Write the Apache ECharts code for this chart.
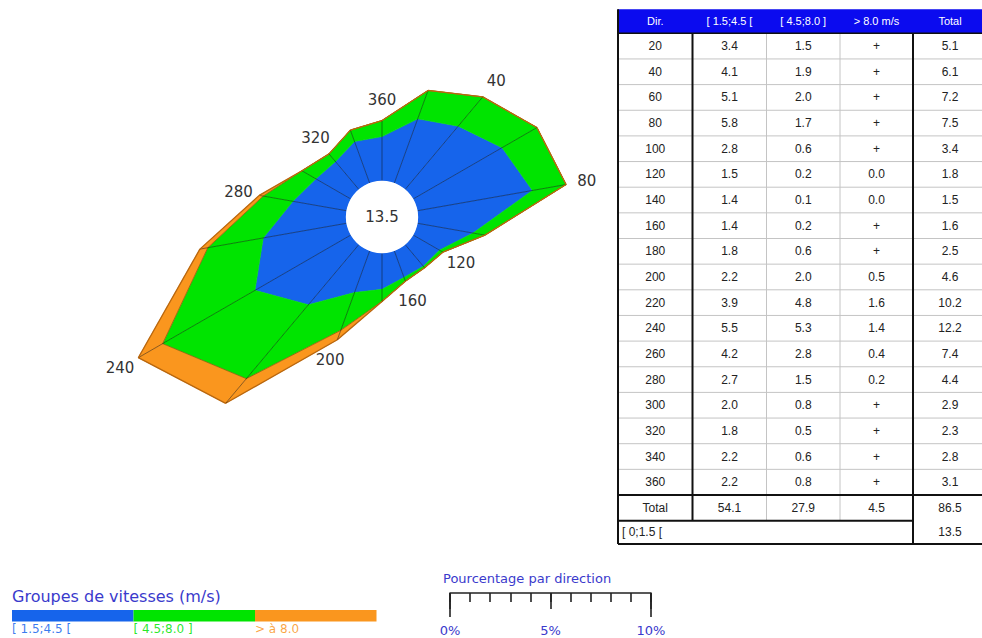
<!DOCTYPE html>
<html>
<head>
<meta charset="utf-8">
<script src="https://cdn.jsdelivr.net/npm/echarts@6/dist/echarts.min.js"></script>
<style>
  html, body { margin: 0; padding: 0; background: #fff; }
  #chart { width: 982px; height: 638px; }
</style>
</head>
<body>
<div id="chart"></div>
<script>
// Wind directions (degrees) and frequency (%) per speed class
const directions = [20, 40, 60, 80, 100, 120, 140, 160, 180, 200, 220, 240, 260, 280, 300, 320, 340, 360];
const speedLow  = [3.4, 4.1, 5.1, 5.8, 2.8, 1.5, 1.4, 1.4, 1.8, 2.2, 3.9, 5.5, 4.2, 2.7, 2.0, 1.8, 2.2, 2.2];
const speedMid  = [1.5, 1.9, 2.0, 1.7, 0.6, 0.2, 0.1, 0.2, 0.6, 2.0, 4.8, 5.3, 2.8, 1.5, 0.8, 0.5, 0.6, 0.8];
const speedHigh = ['+', '+', '+', '+', '+', 0.0, 0.0, '+', '+', 0.5, 1.6, 1.4, 0.4, 0.2, '+', '+', '+', '+'];
const dirTotals = [5.1, 6.1, 7.2, 7.5, 3.4, 1.8, 1.5, 1.6, 2.5, 4.6, 10.2, 12.2, 7.4, 4.4, 2.9, 2.3, 2.8, 3.1];
const classTotals = [54.1, 27.9, 4.5];
const grandTotal = 86.5;
const calmShare = 13.5;

const classNames = ['[ 1.5;4.5 [', '[ 4.5;8.0 ]', '> à 8.0'];
const headerLabels = ['Dir.', '[ 1.5;4.5 [', '[ 4.5;8.0 ]', '> 8.0 m/s', 'Total'];
const calmLabel = '[ 0;1.5 [';
const scaleTicks = [0, 5, 10];

const COLORS = ['#1664EB', '#00E400', '#FA961E'];
const TEXT_VIOLET = '#3a3acc';

// "+" marks a trace frequency: shown in the table, drawn as zero width
const num = v => (typeof v === 'number' ? v : 0);
const n = directions.length;
const cum = [directions.map(() => 0)];
[speedLow, speedMid, speedHigh].forEach((band, b) => {
  cum.push(band.map((v, i) => cum[b][i] + num(v)));
});

const RMIN = -1.8, RMAX = 13.2, PX_PER_PCT = 20.1;

function bandSeries(b) {
  return {
    type: 'custom',
    coordinateSystem: 'polar',
    z: 2,
    silent: true,
    data: directions.map((d, i) => [cum[b + 1][i], d]),
    renderItem: function (params, api) {
      const i = params.dataIndex, j = (i + 1) % n;
      const a0 = directions[i], a1 = directions[j];
      const pts = [
        api.coord([cum[b][i], a0]),
        api.coord([cum[b + 1][i], a0]),
        api.coord([cum[b + 1][j], a1]),
        api.coord([cum[b][j], a1])
      ];
      return {
        type: 'polygon',
        shape: { points: pts },
        style: { fill: COLORS[b], stroke: COLORS[b], lineWidth: 0.6 }
      };
    }
  };
}

// Spokes, ring edges and direction labels
const outlineSeries = {
  type: 'custom',
  coordinateSystem: 'polar',
  z: 3,
  silent: true,
  data: directions.map((d, i) => [cum[3][i], d]),
  renderItem: function (params, api) {
    const i = params.dataIndex, j = (i + 1) % n;
    const a0 = directions[i], a1 = directions[j];
    const center = api.coord([RMIN, 0]);
    const inner = api.coord([0, a0]);
    const tip = api.coord([cum[3][i], a0]);
    const children = [
      { type: 'line', shape: { x1: inner[0], y1: inner[1], x2: tip[0], y2: tip[1] },
        style: { stroke: 'rgba(20,20,20,0.6)', lineWidth: 0.8 } },
      { type: 'polyline', shape: { points: [api.coord([cum[2][i], a0]), api.coord([cum[2][j], a1])] },
        style: { stroke: 'rgba(40,40,0,0.5)', lineWidth: 0.8, fill: null } },
      { type: 'polyline', shape: { points: [tip, api.coord([cum[3][j], a1])] },
        style: { stroke: '#b8660e', lineWidth: 1.3, fill: null } }
    ];
    if (directions[i] % 40 === 0) {
      const dx = tip[0] - center[0], dy = tip[1] - center[1];
      const len = Math.hypot(dx, dy) || 1;
      children.push({
        type: 'text',
        style: {
          x: tip[0] + dx / len * 21, y: tip[1] + dy / len * 21,
          text: String(directions[i]), fill: '#333',
          font: '15px "DejaVu Sans"', align: 'center', verticalAlign: 'middle'
        }
      });
    }
    return { type: 'group', children: children };
  }
};

// Calm circle in the middle
const calmSeries = {
  type: 'custom',
  coordinateSystem: 'polar',
  z: 4,
  silent: true,
  data: [[0, 0]],
  renderItem: function (params, api) {
    const c = api.coord([RMIN, 0]);
    const e = api.coord([0, 0]);
    const r = Math.hypot(e[0] - c[0], e[1] - c[1]);
    return {
      type: 'group',
      children: [
        { type: 'circle', shape: { cx: c[0], cy: c[1], r: r }, style: { fill: '#fff' } },
        { type: 'text', style: { x: c[0], y: c[1], text: String(calmShare), fill: '#333',
          font: '15px "DejaVu Sans"', align: 'center', verticalAlign: 'middle' } }
      ]
    };
  }
};

// Frequency table
function buildTable() {
  const els = [];
  const colX = [618, 692.5, 766.5, 840, 913, 987];
  const top = 9.3, headH = 24, rowH = 25.65;
  const bodyTop = top + headH;
  const totalTop = bodyTop + n * rowH;
  const calmTop = totalTop + rowH;
  const bottom = 544;
  const cx = k => (colX[k] + colX[k + 1]) / 2;
  const bodyFont = '12px "Liberation Sans"';
  const line = (x1, y1, x2, y2, w, c) => els.push({
    type: 'line', shape: { x1, y1, x2, y2 }, style: { stroke: c, lineWidth: w }, silent: true
  });
  const text = (x, y, t, opts) => els.push({
    type: 'text', silent: true,
    style: Object.assign({ x, y, text: t, fill: '#222', font: bodyFont, align: 'center', verticalAlign: 'middle' }, opts || {})
  });

  els.push({ type: 'rect', shape: { x: colX[0], y: top, width: colX[5] - colX[0], height: headH },
    style: { fill: '#0b0bef' }, silent: true });
  headerLabels.forEach((h, k) => text(cx(k), top + headH / 2, h, { fill: '#fff', font: '11px "Liberation Sans"' }));

  // thin separators
  for (let r = 1; r < n; r++) line(colX[0], bodyTop + r * rowH, colX[5], bodyTop + r * rowH, 1, '#c4c4c4');
  [2, 3].forEach(k => line(colX[k], bodyTop, colX[k], calmTop, 1, '#c4c4c4'));

  directions.forEach((d, r) => {
    const y = bodyTop + r * rowH + rowH / 2;
    const hi = speedHigh[r];
    text(cx(0), y, String(d));
    text(cx(1), y, speedLow[r].toFixed(1));
    text(cx(2), y, speedMid[r].toFixed(1));
    text(cx(3), y, typeof hi === 'number' ? hi.toFixed(1) : hi);
    text(cx(4), y, dirTotals[r].toFixed(1));
  });
  const ty = totalTop + rowH / 2;
  text(cx(0), ty, 'Total');
  classTotals.forEach((v, k) => text(cx(k + 1), ty, v.toFixed(1)));
  text(cx(4), ty, grandTotal.toFixed(1));
  const cy = (calmTop + bottom) / 2;
  text(colX[0] + 4, cy, calmLabel, { align: 'left' });
  text(cx(4), cy, calmShare.toFixed(1));

  // heavy rules
  const K = '#111';
  line(colX[0], top, colX[0], bottom, 2, K);
  line(colX[0], bottom, colX[5], bottom, 2, K);
  line(colX[1], bodyTop, colX[1], calmTop, 2, K);
  line(colX[4], bodyTop, colX[4], bottom, 2, K);
  line(colX[0], bodyTop, colX[5], bodyTop, 1.5, K);
  line(colX[0], totalTop, colX[5], totalTop, 2, K);
  line(colX[0], calmTop, colX[4], calmTop, 2, K);
  return els;
}

// Speed-class legend
function buildLegend() {
  const els = [{
    type: 'text', silent: true,
    style: { x: 12, y: 596, text: 'Groupes de vitesses (m/s)', fill: TEXT_VIOLET,
      font: '16px "DejaVu Sans"', verticalAlign: 'middle' }
  }];
  classNames.forEach((name, k) => {
    els.push({ type: 'rect', silent: true, shape: { x: 12 + k * 121.5, y: 610, width: 121.5, height: 11.5 },
      style: { fill: COLORS[k] } });
    els.push({ type: 'text', silent: true,
      style: { x: 12 + k * 121.5, y: 629, text: name, fill: COLORS[k],
        font: '12px "DejaVu Sans"', verticalAlign: 'middle', opacity: 0.85 } });
  });
  els.push({
    type: 'text', silent: true,
    style: { x: 443, y: 578, text: 'Pourcentage par direction', fill: TEXT_VIOLET,
      font: '13px "DejaVu Sans"', verticalAlign: 'middle' }
  });
  return els;
}

const scaleAxis = (interval, tickLen, withLine, withLabels) => ({
  type: 'value', gridIndex: 0, position: 'bottom', offset: 0,
  min: scaleTicks[0], max: scaleTicks[scaleTicks.length - 1], interval: interval,
  axisLine: { show: withLine, lineStyle: { color: '#222', width: 1.6 } },
  axisTick: { show: true, length: tickLen, lineStyle: { color: '#222', width: 1.6 } },
  axisLabel: { show: withLabels, formatter: '{value}%', margin: 31, color: TEXT_VIOLET,
    fontSize: 13, fontFamily: 'DejaVu Sans' },
  splitLine: { show: false }
});

const chart = echarts.init(document.getElementById('chart'), null, { renderer: 'svg' });
chart.setOption({
  animation: false,
  backgroundColor: '#fff',
  polar: { center: [382, 217], radius: [0, (RMAX - RMIN) * PX_PER_PCT] },
  angleAxis: { type: 'value', min: 0, max: 360, startAngle: 90, clockwise: true, show: false },
  radiusAxis: { type: 'value', min: RMIN, max: RMAX, show: false },
  grid: { left: 450, top: 592, width: 10 * PX_PER_PCT, height: 1 },
  xAxis: [
    scaleAxis(1, 9, true, false),
    scaleAxis(5, 16, false, true),
    scaleAxis(10, 24, false, false)
  ],
  yAxis: { type: 'value', gridIndex: 0, show: false },
  series: [bandSeries(0), bandSeries(1), bandSeries(2), outlineSeries, calmSeries],
  graphic: { elements: buildTable().concat(buildLegend()) }
});
</script>
</body>
</html>
